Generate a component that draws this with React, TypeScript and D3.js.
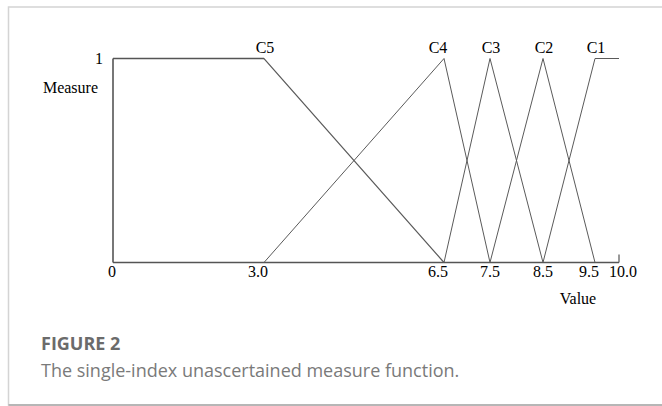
import * as d3 from 'd3';

const W = 662, H = 406;

// x values where the axis is labelled (the axis is not to scale in the original)
const xTicks = [0, 3, 6.5, 7.5, 8.5, 9.5, 10];
const xTickLabels = ['0', '3.0', '6.5', '7.5', '8.5', '9.5', '10.0'];

// grade names and their membership breakpoints [value, measure]
const grades = ['C5', 'C4', 'C3', 'C2', 'C1'];
const c5: [number, number][] = [[0, 1], [3, 1], [6.5, 0]];
const c4: [number, number][] = [[3, 0], [6.5, 1], [7.5, 0]];
const c3: [number, number][] = [[6.5, 0], [7.5, 1], [8.5, 0]];
const c2: [number, number][] = [[7.5, 0], [8.5, 1], [9.5, 0]];
const c1: [number, number][] = [[8.5, 0], [9.5, 1], [10, 1]];
const gradePeaks = [3, 6.5, 7.5, 8.5, 9.5];

const serif = '"Liberation Serif", "Times New Roman", serif';

export default function App() {
  // piecewise scale to follow the hand-spaced axis of the figure
  const x = d3.scaleLinear().domain(xTicks).range([113, 264, 444, 490, 543, 595, 619]);
  const y = d3.scaleLinear().domain([0, 1]).range([262.5, 58.5]);
  const line = d3.line<[number, number]>().x((d) => x(d[0])).y((d) => y(d[1]));

  const series = [c5, c4, c3, c2, c1];

  return (
    <svg width={W} height={H} style={{ position: 'absolute', left: 0, top: 0 }}>
      <rect x={0} y={0} width={W} height={H} fill="#fff" />
      {/* frame */}
      <path d={`M${W + 5},7H8.5V405H${W + 5}`} fill="none" stroke="#d4d4d4" strokeWidth={1.5} />
      <line x1={8.5} x2={W} y1={405} y2={405} stroke="#a8a8a8" strokeWidth={1.5} />

      {/* axes */}
      <line x1={x(0)} x2={x(0)} y1={y(0)} y2={y(1)} stroke="#555" strokeWidth={1.6} />
      <line x1={x(0)} x2={x(10)} y1={y(0)} y2={y(0)} stroke="#555" strokeWidth={1.6} />
      <line x1={x(10)} x2={x(10)} y1={y(0)} y2={y(0) - 8} stroke="#555" strokeWidth={1.2} />

      {series.map((s, i) => (
        <path key={grades[i]} d={line(s) ?? ''} fill="none" stroke="#5a5a5a" strokeWidth={i === 0 ? 1.2 : 1} />
      ))}
      {/* C5 top edge is drawn heavier like the axis */}
      <line x1={x(0)} x2={x(3)} y1={y(1)} y2={y(1)} stroke="#555" strokeWidth={1.6} />

      <g fontFamily={serif} fontSize={16} fill="#000">
        {grades.map((g, i) => (
          <text key={g} x={x(gradePeaks[i]) + (i === 1 ? -6 : 1)} y={53} textAnchor="middle">{g}</text>
        ))}
        {xTicks.map((v, i) => (
          <text key={v} x={x(v) + (i === 1 || i === 2 || i === 5 ? -6 : i === 6 ? 4 : i === 0 ? -1 : 0)} y={277} textAnchor="middle">
            {xTickLabels[i]}
          </text>
        ))}
        <text x={103} y={64} textAnchor="end">1</text>
        <text x={98} y={93} textAnchor="end">Measure</text>
        <text x={578} y={304} textAnchor="middle">Value</text>
      </g>

      <text x={41} y={350} fontFamily='"Open Sans", sans-serif' fontWeight={700} fontSize={18} fill="#6b6b6b">FIGURE 2</text>
      <text x={41} y={377} fontFamily='"Open Sans", sans-serif' fontSize={18} fill="#7a7a7a">
        The single-index unascertained measure function.
      </text>
    </svg>
  );
}
